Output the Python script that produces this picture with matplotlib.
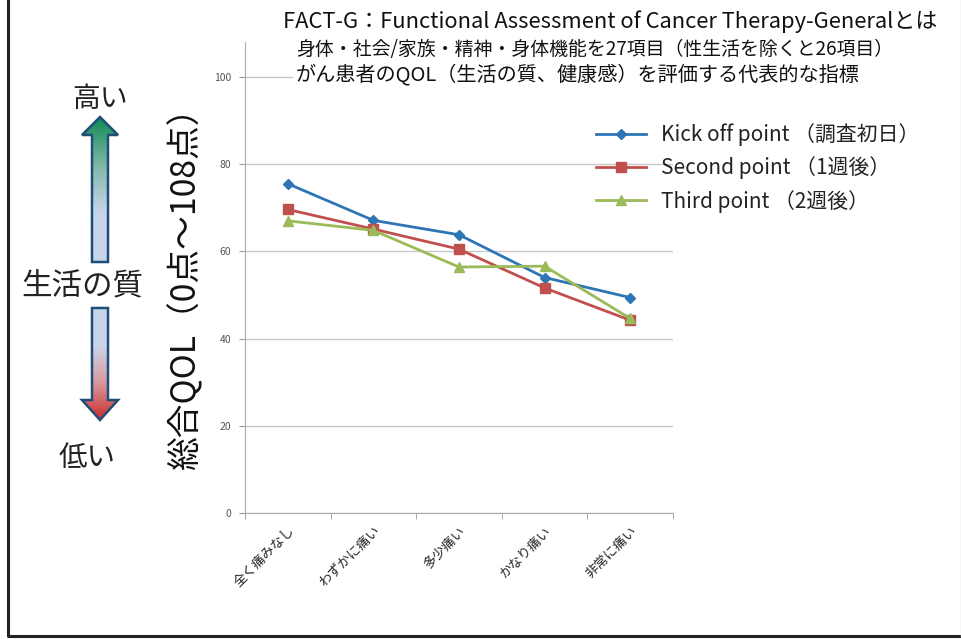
import numpy as np
import matplotlib.pyplot as plt
from matplotlib.patches import Polygon
from matplotlib.colors import LinearSegmentedColormap

plt.rcParams['font.family'] = ['Noto Sans CJK JP', 'DejaVu Sans']

# scores per pain level
categories = ['全く痛みなし', 'わずかに痛い', '多少痛い', 'かなり痛い', '非常に痛い']
kickoff = [75.5, 67.1, 63.8, 54.0, 49.4]
second = [69.6, 65.1, 60.5, 51.6, 44.2]
third = [67.0, 64.8, 56.4, 56.6, 44.6]
series_labels = ['Kick off point （調査初日）', 'Second point （1週後）', 'Third point （2週後）']
yticks = [0, 20, 40, 60, 80, 100]

W, H = 962, 639
fig = plt.figure(figsize=(W / 100, H / 100), dpi=100)

# backdrop layer in pixel units for the frame and the arrows
bg = fig.add_axes([0, 0, 1, 1])
bg.set_xlim(0, W)
bg.set_ylim(H, 0)
bg.axis('off')
bg.plot([8, 8, 961], [0, 636, 636], color='#222222', lw=2.2)
bg.plot([961, 961], [0, 636], color='#dddddd', lw=1)


def grad_arrow(ax, cx, y_tip, y_head, y_end, colors):
    sw, hw = 8, 18
    pts = [(cx, y_tip), (cx + hw, y_head), (cx + sw, y_head), (cx + sw, y_end),
           (cx - sw, y_end), (cx - sw, y_head), (cx - hw, y_head)]
    poly = Polygon(pts, closed=True, fc='none', ec='#1f4e79', lw=1.8, zorder=3)
    ax.add_patch(poly)
    cmap = LinearSegmentedColormap.from_list('g', colors)
    grad = np.linspace(0, 1, 200).reshape(-1, 1)
    top, bot = min(y_tip, y_end), max(y_tip, y_end)
    im = ax.imshow(grad, cmap=cmap, extent=(cx - hw, cx + hw, bot, top),
                   aspect='auto', zorder=2)
    im.set_clip_path(poly)


grad_arrow(bg, 100, 117, 135, 262, ['#0f8a55', '#7fb8a8', '#c9d5ea', '#c9d5ea'])
grad_arrow(bg, 100, 420, 400, 308, ['#c9d5ea', '#c9d5ea', '#d99aa0', '#cc2b2b'])

bg.text(100, 99, '高い', fontsize=20, ha='center', va='center', color='#222222')
bg.text(82, 287, '生活の質', fontsize=22, ha='center', va='center', color='#222222')
bg.text(87, 458, '低い', fontsize=20.5, ha='center', va='center', color='#222222')
bg.text(186, 280, '総合QOL（0点～108点）', fontsize=24.3, rotation=90,
        ha='center', va='center', color='#111111')

# main chart
ax = fig.add_axes([245 / W, 1 - 513 / H, 428 / W, 471 / H])
x = np.arange(len(categories))
ax.set_xlim(-0.5, len(categories) - 0.5)
ax.set_ylim(0, 108)
ax.set_yticks(yticks)
ax.set_yticklabels([str(v) for v in yticks], fontsize=7.5, color='#555555')
ax.yaxis.grid(True, color='#c8c8c8', lw=1)
ax.set_axisbelow(True)
ax.set_xticks(x)
ax.set_xticklabels(categories, rotation=45, ha='right', rotation_mode='anchor',
                   fontsize=9.5, color='#222222')
ax.set_xticks(np.arange(len(categories) + 1) - 0.5, minor=True)
ax.tick_params(axis='x', which='major', length=0, pad=8)
ax.tick_params(axis='x', which='minor', length=4, color='#999999')
ax.tick_params(axis='y', length=4, color='#999999', pad=6)
for s in ['top', 'right']:
    ax.spines[s].set_visible(False)
for s in ['left', 'bottom']:
    ax.spines[s].set_color('#aaaaaa')

ax.plot(x, kickoff, color='#2e75b6', marker='D', ms=5, lw=2, label=series_labels[0])
ax.plot(x, second, color='#c0504d', marker='s', ms=7, lw=2, label=series_labels[1])
ax.plot(x, third, color='#9bbb59', marker='^', ms=7, lw=2, label=series_labels[2])

leg = ax.legend(loc='upper left', bbox_to_anchor=(343 / 428, (471 - 73) / 471),
                frameon=False, fontsize=15, handlelength=2.4, handletextpad=0.7,
                labelspacing=0.5, borderaxespad=0)
for t in leg.get_texts():
    t.set_color('#222222')

# heading lines
box = dict(fc='white', ec='none', pad=2)
fig.text(283 / W, 1 - 22 / H, 'FACT-G：Functional Assessment of Cancer Therapy-Generalとは',
         fontsize=15.8, ha='left', va='center', color='#111111', bbox=box)
fig.text(296 / W, 1 - 49 / H, '身体・社会/家族・精神・身体機能を27項目（性生活を除くと26項目）',
         fontsize=13.6, ha='left', va='center', color='#111111', bbox=box)
fig.text(296 / W, 1 - 75 / H, 'がん患者のQOL（生活の質、健康感）を評価する代表的な指標',
         fontsize=14.5, ha='left', va='center', color='#111111', bbox=box)

fig.savefig('out.png', dpi=100, facecolor='white')
